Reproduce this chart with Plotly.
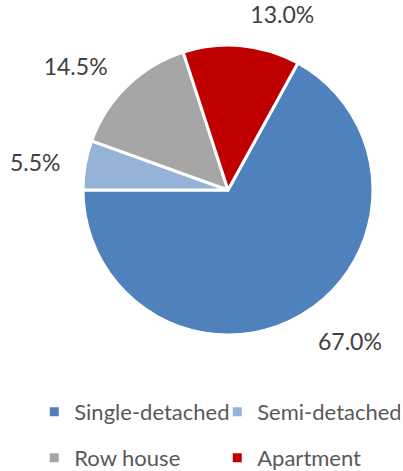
import plotly.graph_objects as go

categories = ["Single-detached", "Semi-detached", "Row house", "Apartment"]
shares = [67.0, 5.5, 14.5, 13.0]
colors = ["#4F81BD", "#95B3D7", "#A6A6A6", "#C00000"]
legend_rows = ["legend", "legend", "legend2", "legend2"]

W, H = 403, 471
cx, cy, R = 228, 190, 145      # pie centre / radius in px
R_text = 163                    # radius used to place outside labels

def dom(r):
    return dict(x=[(cx - r) / W, (cx + r) / W], y=[(H - cy - r) / H, (H - cy + r) / H])

fig = go.Figure()

# visible pie
fig.add_trace(go.Pie(
    labels=categories, values=shares, sort=False, direction="clockwise",
    rotation=28.8,
    marker=dict(colors=colors, line=dict(color="white", width=3)),
    textinfo="none", domain=dom(R), automargin=False, showlegend=False,
    hoverinfo="label+percent",
))

# transparent, slightly larger pie that only carries the outside labels
fig.add_trace(go.Pie(
    labels=categories, values=shares, sort=False, direction="clockwise",
    rotation=28.8,
    marker=dict(colors=["rgba(0,0,0,0)"] * 4, line=dict(width=0)),
    texttemplate="%{value:.1f}%", textposition="outside",
    textfont=dict(family="Lato", size=23, color="#404040"),
    domain=dom(R_text), automargin=False, showlegend=False, hoverinfo="skip",
))

# legend entries (two rows)
for name, col, lg in zip(categories, colors, legend_rows):
    fig.add_trace(go.Scatter(
        x=[None], y=[None], mode="markers", name=name, legend=lg,
        marker=dict(symbol="square", size=9, color=col),
    ))

legend_style = dict(
    orientation="h", xanchor="left", yanchor="middle",
    entrywidth=138, entrywidthmode="pixels",
    font=dict(family="Lato", size=22, color="#595959"),
    itemclick=False, itemdoubleclick=False, bgcolor="rgba(0,0,0,0)",
)

fig.update_layout(
    width=W, height=H,
    margin=dict(l=0, r=0, t=0, b=0, autoexpand=False),
    paper_bgcolor="white", plot_bgcolor="white",
    xaxis=dict(visible=False), yaxis=dict(visible=False),
    legend=dict(x=0.085, y=(H - 412) / H, **legend_style),
    legend2=dict(x=0.085, y=(H - 458) / H, **legend_style),
)

fig.write_html("out.html")
